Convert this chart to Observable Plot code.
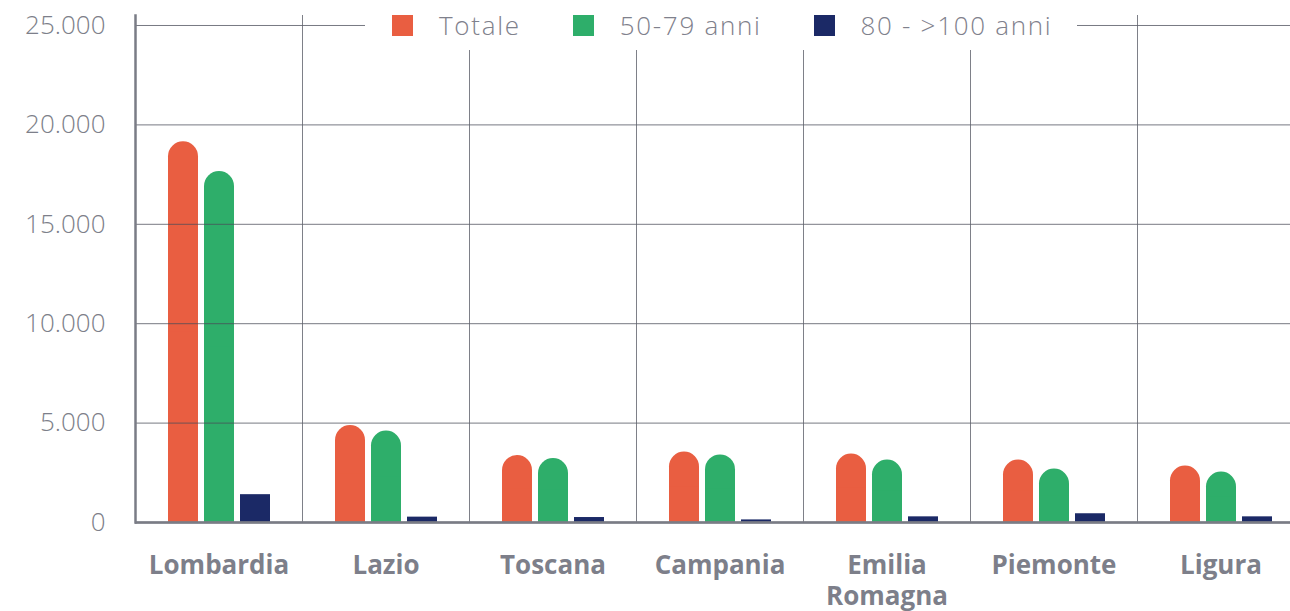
<!DOCTYPE html>
<html>
<head>
<meta charset="utf-8">
<script src="https://cdn.jsdelivr.net/npm/d3@7"></script>
<script src="https://cdn.jsdelivr.net/npm/@observablehq/plot@0.6"></script>
<style>
  html, body { margin: 0; padding: 0; background: #fff; overflow: hidden; }
  #wrap { position: relative; width: 1290px; height: 611px; overflow: hidden; }
  #chart svg { max-width: none !important; }
  #legend {
    position: absolute; left: 365px; top: 0; width: 712px; height: 50px;
    background: #fff; display: flex; align-items: center; padding-left: 27px; box-sizing: border-box;
    font-family: "Open Sans", sans-serif; font-weight: 300; font-size: 26px; letter-spacing: 1.7px; color: #7f818c;
    white-space: nowrap;
  }
  #legend .item { display: flex; align-items: center; margin-right: 52px; white-space: nowrap; flex: none; }
  #legend .sw { width: 21px; height: 21px; margin-right: 26px; flex: none; }
</style>
</head>
<body>
<div id="wrap"><div id="chart"></div><div id="legend"></div></div>
<script>
const regions = ["Lombardia", "Lazio", "Toscana", "Campania", "Emilia Romagna", "Piemonte", "Ligura"];
const series = ["Totale", "50-79 anni", "80 - >100 anni"];
const totale = [19150, 4880, 3370, 3540, 3440, 3140, 2840];
const eta5079 = [17650, 4600, 3220, 3400, 3140, 2690, 2535];
const eta80 = [1400, 270, 250, 130, 285, 440, 285];
const colors = ["#e95e41", "#2eae6a", "#1b2966"];
const yTicks = [0, 5000, 10000, 15000, 20000, 25000];

const values = [totale, eta5079, eta80];
const rows = regions.flatMap((r, i) => series.map((s, j) => ({region: r, series: s, value: values[j][i]})));
const rounded = rows.filter(d => d.series !== series[2]);
const flat = rows.filter(d => d.series === series[2]);

const itFormat = d3.formatLocale({decimal: ",", thousands: ".", grouping: [3], currency: ["€", ""]}).format(",");
const grey = "#7d7f8a";

const chart = Plot.plot({
  width: 1304,
  height: 611,
  marginLeft: 135,
  marginRight: 0,
  marginTop: 15,
  marginBottom: 89,
  style: {fontFamily: "Open Sans, sans-serif", background: "transparent", overflow: "visible", maxWidth: "none"},
  fx: {domain: regions, padding: 0, label: null},
  x: {domain: series, paddingInner: 0.176, paddingOuter: 0.845, axis: null, label: null},
  y: {domain: [0, 25503], label: null},
  color: {domain: series, range: colors},
  marks: [
    Plot.barY(rounded, {fx: "region", x: "series", y: "value", fill: "series", rx: 15}),
    Plot.barY(rounded, {fx: "region", x: "series", y1: 0, y2: d => d.value / 2, fill: "series"}),
    Plot.barY(flat, {fx: "region", x: "series", y: "value", fill: "series"}),
    Plot.gridY(yTicks, {stroke: "#4a4c58", strokeOpacity: 0.75, strokeWidth: 1}),
    Plot.frame({anchor: "left", stroke: "#5e606a", strokeOpacity: 0.8, strokeWidth: 1}),
    Plot.frame({anchor: "left", stroke: "#7a7c86", strokeWidth: 2.5, fx: () => regions[0]}),
    Plot.ruleY([0], {stroke: "#7a7c86", strokeWidth: 3, strokeOpacity: 0.85}),
    Plot.axisY(yTicks, {tickSize: 0, tickPadding: 30, tickFormat: itFormat, fontSize: 26, fontWeight: 300, fill: grey, letterSpacing: 3.4}),
    Plot.axisFx({anchor: "bottom", tickSize: 0, tickPadding: 30, fontSize: 26, fontWeight: 700, fill: grey, letterSpacing: 0.3, lineHeight: 1.17, tickFormat: d => d.replace(" ", "\n"), label: null})
  ]
});
document.getElementById("chart").appendChild(chart);

const legend = document.getElementById("legend");
series.forEach((s, i) => {
  const item = document.createElement("div");
  item.className = "item";
  const sw = document.createElement("span");
  sw.className = "sw";
  sw.style.background = colors[i];
  const t = document.createElement("span");
  t.textContent = s;
  item.appendChild(sw);
  item.appendChild(t);
  legend.appendChild(item);
});
</script>
</body>
</html>
